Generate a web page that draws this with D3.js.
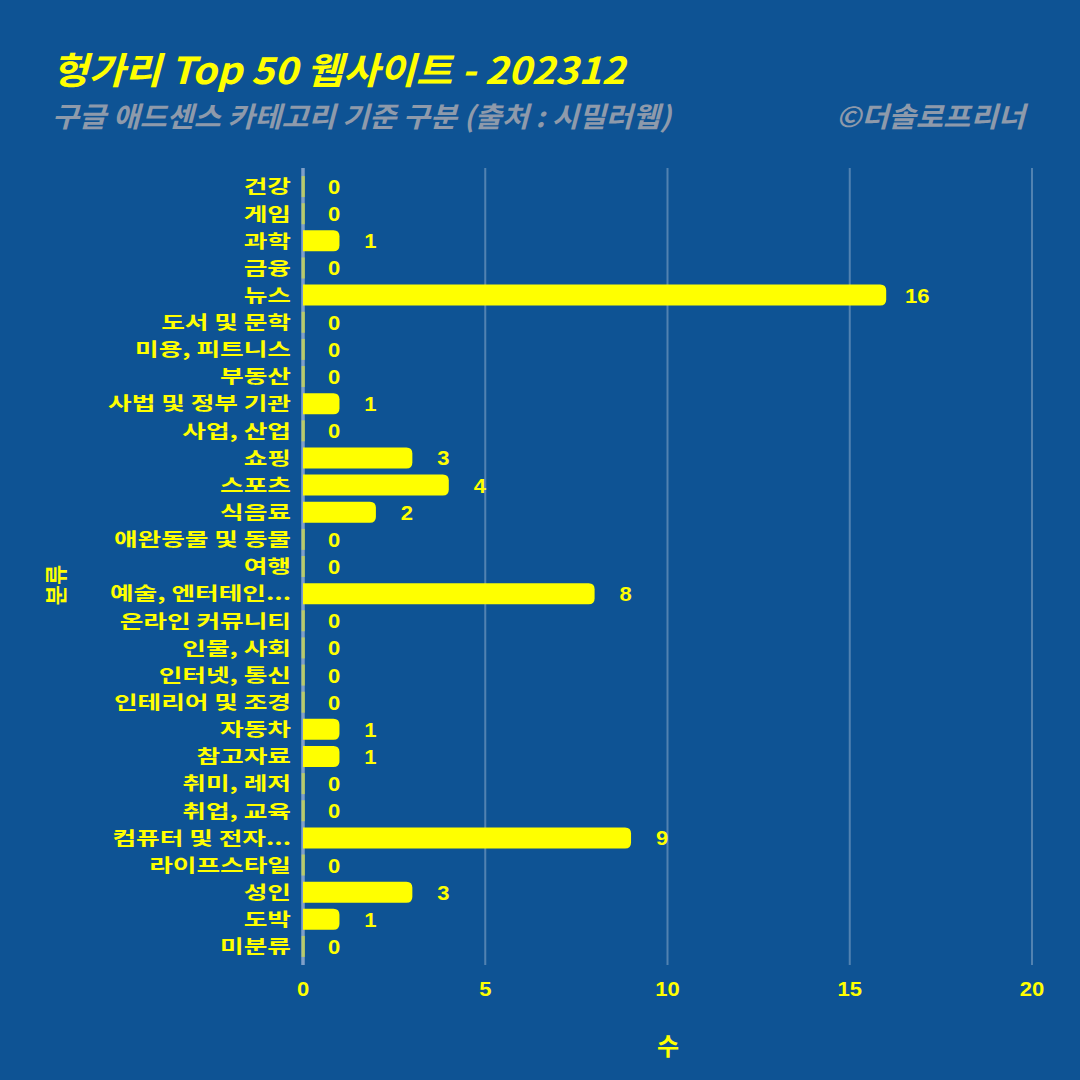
<!DOCTYPE html>
<html><head><meta charset="utf-8">
<script src="https://cdn.jsdelivr.net/npm/d3@7"></script>
<style>html,body{margin:0;padding:0;background:#0e5394;}svg{display:block;}</style>
</head><body>
<svg id="chart" width="1080" height="1080"></svg>
<script>
const categories = ["건강","게임","과학","금융","뉴스","도서 및 문학","미용, 피트니스","부동산","사법 및 정부 기관","사업, 산업","쇼핑","스포츠","식음료","애완동물 및 동물","여행","예술, 엔터테인...","온라인 커뮤니티","인물, 사회","인터넷, 통신","인테리어 및 조경","자동차","참고자료","취미, 레저","취업, 교육","컴퓨터 및 전자...","라이프스타일","성인","도박","미분류"];
const counts = [0,0,1,0,16,0,0,0,1,0,3,4,2,0,0,8,0,0,0,0,1,1,0,0,9,0,3,1,0];
const xTicks = [0,5,10,15,20];
const titleText = "헝가리 Top 50 웹사이트 - 202312";
const subtitleText = "구글 애드센스 카테고리 기준 구분 (출처 : 시밀러웹)";
const creditText = "©더솔로프리너";
const xTitle = "수";
const yTitle = "분류";

const W = 1080, H = 1080;
const svg = d3.select("#chart");
const YEL = "#ffff00";
const GRAY = "#8e9aab";
const KFONT = "'Noto Sans CJK KR','Noto Sans',sans-serif";
const NFONT = "'Liberation Sans',Arial,sans-serif";

svg.append("rect").attr("width",W).attr("height",H).attr("fill","#0e5394");

const x = d3.scaleLinear().domain([0,20]).range([303,1032]);
const y = d3.scaleBand().domain(categories).range([173,960]).paddingInner(0.226).paddingOuter(0.113);

svg.append("g").selectAll("line").data(xTicks.filter(t=>t>0)).join("line")
  .attr("x1",d=>x(d)).attr("x2",d=>x(d)).attr("y1",168).attr("y2",965)
  .attr("stroke","rgba(255,255,255,0.28)").attr("stroke-width",2);

svg.append("line").attr("x1",x(0)).attr("x2",x(0)).attr("y1",168).attr("y2",965)
  .attr("stroke","#7f9fc8").attr("stroke-width",3.5);

const data = categories.map((c,i)=>({c, v:counts[i]}));

function barPath(x0,x1,y0,h,r){
  const w = x1-x0; r = Math.min(r,w,h/2);
  return `M${x0},${y0}H${x1-r}Q${x1},${y0} ${x1},${y0+r}V${y0+h-r}Q${x1},${y0+h} ${x1-r},${y0+h}H${x0}Z`;
}

svg.append("g").selectAll("path").data(data.filter(d=>d.v>0)).join("path")
  .attr("d",d=>barPath(x(0),x(d.v),y(d.c),y.bandwidth(),6))
  .attr("fill",YEL);
svg.append("g").selectAll("rect").data(data.filter(d=>d.v===0)).join("rect")
  .attr("x",x(0)-1.5).attr("width",3.5).attr("y",d=>y(d.c)).attr("height",y.bandwidth())
  .attr("fill",YEL).attr("opacity",0.45);

svg.append("g").selectAll("text").data(data).join("text")
  .attr("transform",d=>`translate(${x(d.v)+31},${y(d.c)+y.bandwidth()/2+7.5}) scale(1.1,1)`)
  .attr("text-anchor","middle").attr("fill",YEL)
  .attr("font-family",NFONT).attr("font-weight","bold").attr("font-size",20)
  .text(d=>d.v);

svg.append("g").selectAll("text").data(categories).join("text")
  .attr("transform",d=>`translate(291,${y(d)+y.bandwidth()/2+6.8}) scale(1.39,1)`)
  .attr("text-anchor","end").attr("fill",YEL)
  .attr("font-family",KFONT).attr("font-weight","bold").attr("font-size",18.5)
  .text(d=>d);

svg.append("g").selectAll("text").data(xTicks).join("text")
  .attr("transform",d=>`translate(${x(d)},996) scale(1.1,1)`)
  .attr("text-anchor","middle").attr("fill",YEL)
  .attr("font-family",NFONT).attr("font-weight","bold").attr("font-size",20)
  .text(d=>d);

svg.append("text").attr("x",668).attr("y",1055)
  .attr("text-anchor","middle").attr("fill",YEL)
  .attr("font-family",KFONT).attr("font-weight","bold").attr("font-size",24)
  .text(xTitle);
svg.append("text").attr("transform","translate(64,585) rotate(-90)")
  .attr("text-anchor","middle").attr("fill",YEL)
  .attr("font-family",KFONT).attr("font-weight","bold").attr("font-size",22)
  .text(yTitle);

svg.append("text").attr("transform","translate(52,84) scale(1.07,1)")
  .attr("fill",YEL).attr("font-family",KFONT).attr("font-weight","bold")
  .attr("font-style","italic").attr("font-size",37)
  .text(titleText);
svg.append("text").attr("transform","translate(52,127) scale(1.05,1)")
  .attr("fill",GRAY).attr("font-family",KFONT).attr("font-weight","bold")
  .attr("font-style","italic").attr("font-size",28)
  .text(subtitleText);
svg.append("text").attr("transform","translate(1025,127) scale(1.06,1)")
  .attr("text-anchor","end")
  .attr("fill",GRAY).attr("font-family",KFONT).attr("font-weight","bold")
  .attr("font-style","italic").attr("font-size",28)
  .text(creditText);
</script>
</body></html>
